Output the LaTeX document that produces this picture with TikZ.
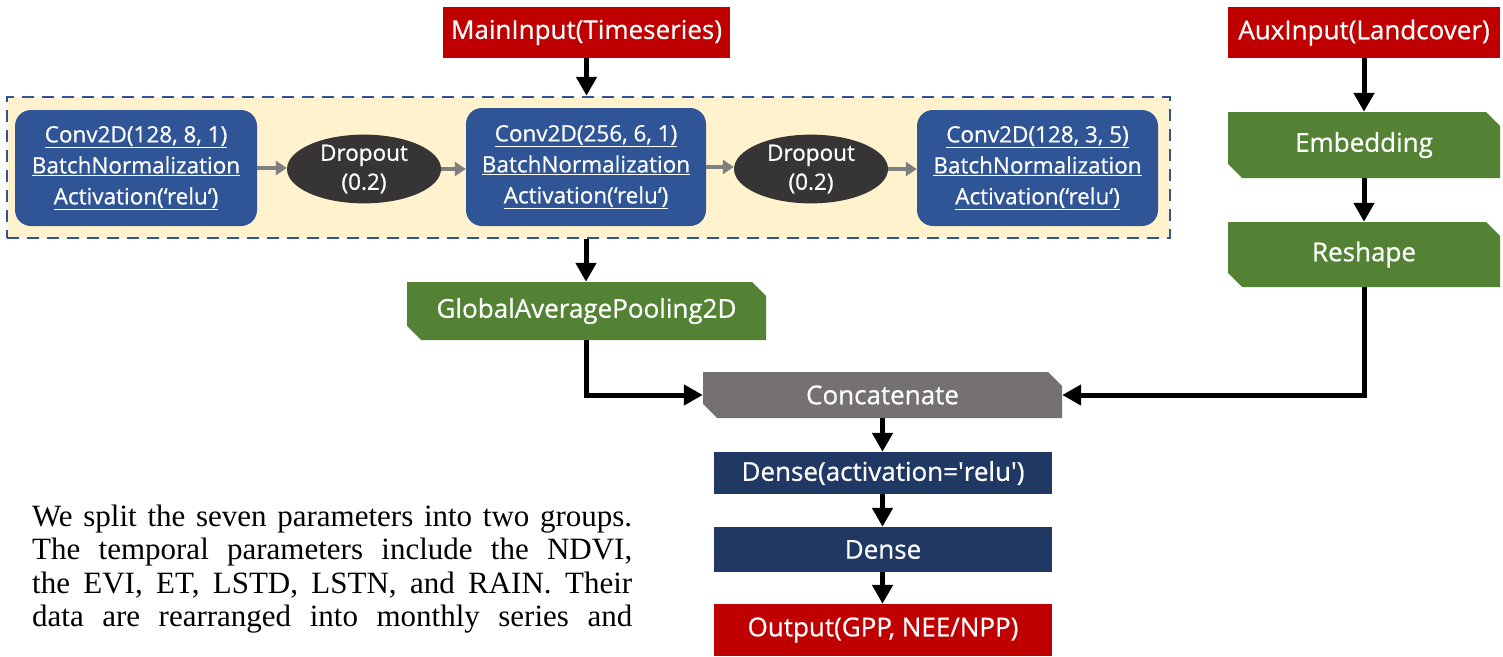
\documentclass[tikz,border=0pt]{standalone}
\usepackage{fontspec}
\setmainfont{Liberation Serif}
\newfontfamily\boxfont[FakeBold=0.6]{Open Sans}
\usetikzlibrary{arrows.meta,shapes.misc,shapes.geometric}
\definecolor{myred}{HTML}{C00000}
\definecolor{mygreen}{HTML}{548235}
\definecolor{myblue}{HTML}{2F5597}
\definecolor{mynavy}{HTML}{203864}
\definecolor{mygray}{HTML}{767171}
\definecolor{myyellow}{HTML}{FFF2CC}
\definecolor{mydark}{HTML}{363434}
\definecolor{arrgray}{HTML}{7F7F7F}
\begin{document}
\begin{tikzpicture}[x=1pt,y=-1pt,
  base/.style={inner sep=0pt, text=white, align=center},
  bigfont/.style={font=\boxfont\fontsize{26}{30}\selectfont},
  redbox/.style={base, fill=myred, bigfont},
  navybox/.style={base, fill=mynavy, bigfont},
  snipbox/.style={base, bigfont, chamfered rectangle, chamfered rectangle corners={north east,south west},
     chamfered rectangle xsep=7pt, chamfered rectangle ysep=7pt, minimum width=#1},
  greenbox/.style={snipbox=272pt, fill=mygreen},
  convbox/.style={base, fill=myblue, rounded corners=16pt, font=\boxfont\fontsize{22.5}{31}\selectfont},
  dropnode/.style={base, ellipse, fill=mydark, minimum width=154pt, minimum height=60pt, font=\boxfont\fontsize{22.5}{29}\selectfont},
  dashbox/.style={inner sep=0pt, fill=myyellow, draw=myblue, line width=2.5pt, dash pattern=on 12pt off 8pt},
  arr/.style={line width=5pt, -{Triangle[width=20pt,length=19pt]}},
  garr/.style={line width=4.5pt, draw=arrgray, -{Triangle[width=14pt,length=11pt]}, arrgray},
  ptext/.style={anchor=base west, inner sep=0pt, font=\fontsize{31}{34}\selectfont},
]
\useasboundingbox (0,0) rectangle (1503,656);

% group
\node[dashbox, minimum width=1163pt, minimum height=141pt] (grp) at (588.5,167.5) {};

\node[redbox, minimum width=287pt, minimum height=51pt] (main) at (586.5,32.5) {MainInput(Timeseries)};
\node[redbox, minimum width=272pt, minimum height=51pt] (aux) at (1364,32.5) {AuxInput(Landcover)};

\node[convbox, minimum width=242pt, minimum height=116pt] (c1) at (136,168)
  {\underline{Conv2D(128, 8, 1)}\\\underline{BatchNormalization}\\\underline{Activation(‘relu‘)}};
\node[dropnode] (d1) at (364,169) {Dropout\\(0.2)};
\node[convbox, minimum width=240pt, minimum height=118pt] (c2) at (586,167)
  {\underline{Conv2D(256, 6, 1)}\\\underline{BatchNormalization}\\\underline{Activation(‘relu‘)}};
\node[dropnode] (d2) at (811,169) {Dropout\\(0.2)};
\node[convbox, minimum width=241pt, minimum height=116pt] (c3) at (1037.5,168)
  {\underline{Conv2D(128, 3, 5)}\\\underline{BatchNormalization}\\\underline{Activation(‘relu‘)}};

\node[greenbox, minimum height=66pt] (emb) at (1364,145) {Embedding};
\node[greenbox, minimum height=65pt] (resh) at (1364,254.5) {Reshape};
\node[snipbox=359pt, fill=mygreen, minimum height=58pt] (gap) at (586.5,311) {GlobalAveragePooling2D};
\node[snipbox=359pt, fill=mygray, minimum height=46pt] (cat) at (882.5,395) {Concatenate};

\node[navybox, minimum width=338pt, minimum height=42pt] (den1) at (883,473) {Dense(activation=\textquotesingle relu\textquotesingle)};
\node[navybox, minimum width=338pt, minimum height=45pt] (den2) at (883,549.5) {Dense};
\node[redbox, minimum width=338pt, minimum height=52pt] (out) at (883,630) {Output(GPP, NEE/NPP)};

% arrows
\draw[arr] (main.south) -- (main.south |- grp.north);
\draw[arr] (c2.south |- grp.south) -- (gap.north -| c2.south);
\draw[garr] (c1.east) -- (d1.west |- c1.east);
\draw[garr] (d1.east) -- (c2.west |- d1.east);
\draw[garr] (c2.east) -- (d2.west |- c2.east);
\draw[garr] (d2.east) -- (c3.west |- d2.east);
\draw[arr] (aux.south) -- (emb.north);
\draw[arr] (emb.south) -- (resh.north);
\draw[arr] (gap.south -| c2.south) |- (cat.west);
\draw[arr] (resh.south) |- (cat.east);
\draw[arr] (cat.south) -- (den1.north -| cat.south);
\draw[arr] (den1.south -| cat.south) -- (den2.north -| cat.south);
\draw[arr] (den2.south -| cat.south) -- (out.north -| cat.south);

% paragraph
\node[ptext] (p1) at (32,526) {\makebox[600pt][s]{We split the seven parameters into two groups.}};
\node[ptext] (p2) at (32,559) {\makebox[600pt][s]{The temporal parameters include the NDVI,}};
\node[ptext] (p3) at (32,593) {\makebox[600pt][s]{the EVI, ET, LSTD, LSTN, and RAIN. Their}};
\node[ptext] (p4) at (32,626) {\makebox[600pt][s]{data are rearranged into monthly series and}};
\end{tikzpicture}
\end{document}
